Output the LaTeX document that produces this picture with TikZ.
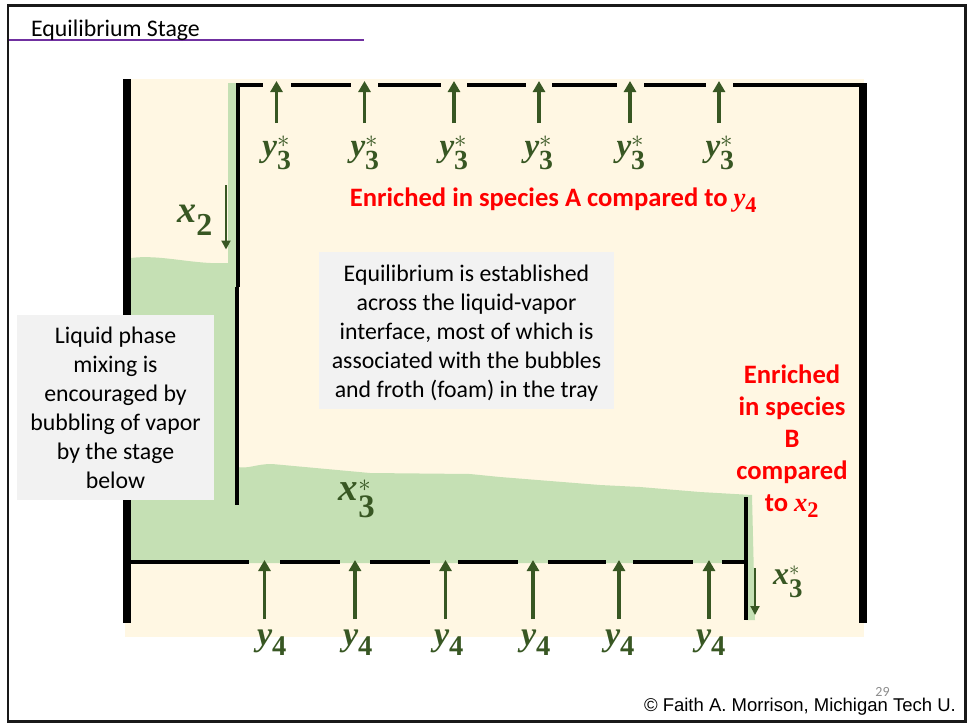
\documentclass[tikz,border=0pt]{standalone}
\usepackage{amsmath}
\usepackage{fontspec}
\setmainfont{Carlito}
\newfontfamily\footfont{Liberation Sans}
\newfontfamily\varfont{Liberation Serif}
\usetikzlibrary{arrows.meta}
\newcommand{\Var}[1]{\text{\varfont\bfseries\itshape #1}}
\newcommand{\Sub}[1]{\text{\varfont\bfseries\upshape\scalebox{1.2}{#1}}}
\definecolor{cream}{HTML}{FFF7E3}
\definecolor{liquid}{HTML}{C5E0B4}
\definecolor{leaf}{HTML}{385723}
\definecolor{rule}{HTML}{7030A0}
\definecolor{panel}{HTML}{F2F2F2}
\tikzset{
	wall/.style={line width=8pt},
	plate/.style={line width=3.8pt},
	vapor/.style={leaf, line width=3.3pt, -{Triangle[length=11pt,width=12pt]}},
	drain/.style={leaf, line width=2pt, -{Triangle[length=9pt,width=9pt]}},
	species/.style={text=leaf, font=\fontsize{#1}{30}\selectfont, inner sep=0pt},
	note/.style={fill=panel, align=center, inner sep=0pt, font=\fontsize{23.8}{29}\selectfont},
	redtext/.style={text=red, align=center, inner sep=0pt, font=\fontsize{26.6}{32}\selectfont\bfseries},
}
\begin{document}
\begin{tikzpicture}[x=1pt, y=-1pt]
		\useasboundingbox (0,0) rectangle (969,723);
		%Cadre et titre
		\draw[line width=2.2pt, black!90] (8,5.5) rectangle (965.5,721.5);
		\draw[rule, line width=1.5pt] (9,40) -- (364,40);
		\node[anchor=base west, inner sep=0pt, font=\fontsize{23.8}{25}\selectfont] (title) at (31,36) {Equilibrium Stage};
		%Fonds
		\fill[cream] (125,79) rectangle (864,636.5);
		\fill[liquid] (131,258) .. controls (160,254) and (195,265) .. (228,263) -- (228,83) -- (237,83) -- (237,467)
			.. controls (250,469) and (255,464) .. (272,464) -- (370,473) -- (470,474) -- (500,477) -- (600,485) -- (640,487) -- (700,492) -- (752,495)
			-- (755,620) -- (746,620) -- (746,563) -- (131,563) -- cycle;
		%Parois
		\draw[wall] (127,79) -- (127,623);
		\draw[wall] (863,83) -- (863,623);
		\draw[line width=3.8pt] (238,85) -- (238,287);
		\draw[line width=3.8pt] (237,287) -- (237,505);
		\draw[line width=3.8pt] (746,497) -- (746,620);
		%Plateau du haut
		\draw[plate] (236,85) -- (263,85);
		\draw[plate] (291,85) -- (351,85);
		\draw[plate] (378,85) -- (441,85);
		\draw[plate] (467,85) -- (526,85);
		\draw[plate] (552,85) -- (617,85);
		\draw[plate] (644,85) -- (706,85);
		\draw[plate] (733,85) -- (860,85);
		%Plateau du bas
		\draw[plate] (131,562) -- (249,562);
		\draw[plate] (280,562) -- (340,562);
		\draw[plate] (370,562) -- (430,562);
		\draw[plate] (458,562) -- (518,562);
		\draw[plate] (548,562) -- (606,562);
		\draw[plate] (633,562) -- (693,562);
		\draw[plate] (722,562) -- (746,562);
		%Noeuds du texte
		\node[note, minimum width=295pt, minimum height=157pt] (P_center) at (466.5,330.5) {\rule{0pt}{22pt}Equilibrium is established\\across the liquid-vapor\\interface, most of which is\\associated with the bubbles\\and froth (foam) in the tray};
		\node[note, minimum width=197pt, minimum height=185pt] (P_left) at (115.5,407.5) {Liquid phase\\mixing is\\encouraged by\\bubbling of vapor\\by the stage\\below};
		\node[redtext] (R_top) at (553.5,200) {Enriched in species A compared to $\Var{y}_{\Sub{4}}$};
		\node[redtext] (R_side) at (792,441) {Enriched\\in species\\B\\compared\\to $\Var{x}_{\Sub{2}}$};
		%Noeuds des courants
		\node[species=33] (Y1) at (277,153) {$\Var{y}_{\Sub{3}}^{*}$};
		\node[species=33] (Y2) at (365,153) {$\Var{y}_{\Sub{3}}^{*}$};
		\node[species=33] (Y3) at (454,153) {$\Var{y}_{\Sub{3}}^{*}$};
		\node[species=33] (Y4) at (539,153) {$\Var{y}_{\Sub{3}}^{*}$};
		\node[species=33] (Y5) at (631,153) {$\Var{y}_{\Sub{3}}^{*}$};
		\node[species=33] (Y6) at (720,153) {$\Var{y}_{\Sub{3}}^{*}$};
		\node[species=34] (F1) at (272,643) {$\Var{y}_{\Sub{4}}$};
		\node[species=34] (F2) at (358,643) {$\Var{y}_{\Sub{4}}$};
		\node[species=34] (F3) at (449,643) {$\Var{y}_{\Sub{4}}$};
		\node[species=34] (F4) at (536,643) {$\Var{y}_{\Sub{4}}$};
		\node[species=34] (F5) at (620,643) {$\Var{y}_{\Sub{4}}$};
		\node[species=34] (F6) at (711,643) {$\Var{y}_{\Sub{4}}$};
		\node[species=38] (X2) at (195,220) {$\Var{x}_{\Sub{2}}$};
		\node[species=39] (X3) at (357,499) {$\Var{x}_{\Sub{3}}^{*}$};
		\node[species=32] (X3out) at (788,582) {$\Var{x}_{\Sub{3}}^{*}$};
		%Extremites des fleches
		\coordinate (Y1a) at (276.5,123);
		\coordinate (Y1b) at (276.5,81);
		\coordinate (Y2a) at (364.5,123);
		\coordinate (Y2b) at (364.5,81);
		\coordinate (Y3a) at (454,123);
		\coordinate (Y3b) at (454,81);
		\coordinate (Y4a) at (539,123);
		\coordinate (Y4b) at (539,81);
		\coordinate (Y5a) at (630,123);
		\coordinate (Y5b) at (630,81);
		\coordinate (Y6a) at (719,123);
		\coordinate (Y6b) at (719,81);
		\coordinate (F1a) at (264.5,619);
		\coordinate (F1b) at (264.5,560);
		\coordinate (F2a) at (355,619);
		\coordinate (F2b) at (355,560);
		\coordinate (F3a) at (445.5,619);
		\coordinate (F3b) at (445.5,560);
		\coordinate (F4a) at (533,619);
		\coordinate (F4b) at (533,560);
		\coordinate (F5a) at (619,619);
		\coordinate (F5b) at (619,560);
		\coordinate (F6a) at (709,619);
		\coordinate (F6b) at (709,560);
		\coordinate (X2a) at (226,185);
		\coordinate (X2b) at (226,249.5);
		\coordinate (X3a) at (755,568);
		\coordinate (X3b) at (755,615);
		%Fleches
		\draw[vapor] (Y1a) -- (Y1b);
		\draw[vapor] (Y2a) -- (Y2b);
		\draw[vapor] (Y3a) -- (Y3b);
		\draw[vapor] (Y4a) -- (Y4b);
		\draw[vapor] (Y5a) -- (Y5b);
		\draw[vapor] (Y6a) -- (Y6b);
		\draw[vapor] (F1a) -- (F1b);
		\draw[vapor] (F2a) -- (F2b);
		\draw[vapor] (F3a) -- (F3b);
		\draw[vapor] (F4a) -- (F4b);
		\draw[vapor] (F5a) -- (F5b);
		\draw[vapor] (F6a) -- (F6b);
		\draw[drain] (X2a) -- (X2b);
		\draw[drain] (X3a) -- (X3b);
		%Pied de page
		\node[anchor=base, inner sep=0pt, text=black!45, font=\fontsize{14}{16}\selectfont] (pagenum) at (882.5,696) {29};
		\node[anchor=base east, inner sep=0pt, font=\footfont\fontsize{18.5}{23}\selectfont] (credit) at (956,711) {© Faith A. Morrison, Michigan Tech U.};
		\end{tikzpicture}
\end{document}
